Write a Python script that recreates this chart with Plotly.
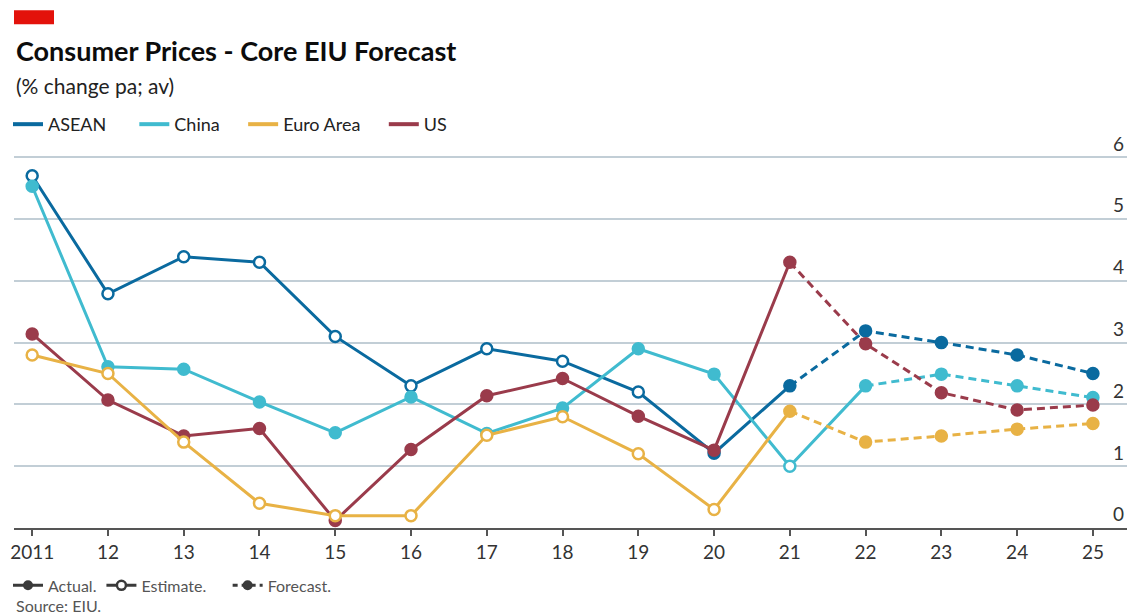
import plotly.graph_objects as go

years = list(range(2011, 2026))
tick_labels = ["2011"] + [str(y % 100) for y in range(2012, 2026)]

asean = [5.70, 3.79, 4.39, 4.30, 3.10, 2.30, 2.90, 2.70, 2.20, 1.21, 2.30, 3.19, 3.00, 2.80, 2.50]
china = [5.53, 2.61, 2.57, 2.04, 1.54, 2.12, 1.53, 1.94, 2.90, 2.49, 1.00, 2.30, 2.49, 2.30, 2.11]
euro = [2.80, 2.50, 1.39, 0.40, 0.20, 0.20, 1.50, 1.80, 1.20, 0.30, 1.89, 1.39, 1.49, 1.60, 1.69]
us = [3.14, 2.07, 1.49, 1.61, 0.12, 1.27, 2.14, 2.42, 1.81, 1.26, 4.30, 2.98, 2.19, 1.91, 1.99]

# A = actual, E = estimate, F = forecast
asean_status = ["E"] * 9 + ["A", "A"] + ["F"] * 4
china_status = ["A"] * 10 + ["E", "A"] + ["F"] * 3
euro_status = ["E"] * 10 + ["A"] + ["F"] * 4
us_status = ["A"] * 11 + ["F"] * 4

series = [
    ("ASEAN", asean, asean_status, "#0a6a9f"),
    ("China", china, china_status, "#40bbcf"),
    ("US", us, us_status, "#9a3b4b"),
    ("Euro Area", euro, euro_status, "#e8b245"),
]
legend_order = ["ASEAN", "China", "Euro Area", "US"]
legend_names = {"ASEAN": "ASEAN     ", "China": "China    ", "Euro Area": "Euro Area    ", "US": "US"}

fig = go.Figure()

for name, vals, status, color in series:
    first_f = status.index("F")
    solid_end = first_f - 1
    fig.add_trace(go.Scatter(
        x=years[:solid_end + 1], y=vals[:solid_end + 1], mode="lines",
        line=dict(color=color, width=3), showlegend=False, hoverinfo="skip",
        cliponaxis=False))
    fig.add_trace(go.Scatter(
        x=years[solid_end:], y=vals[solid_end:], mode="lines",
        line=dict(color=color, width=3, dash="8px,5px"), showlegend=False,
        hoverinfo="skip", cliponaxis=False))
    fills = ["white" if s == "E" else color for s in status]
    fig.add_trace(go.Scatter(
        x=years, y=vals, mode="markers",
        marker=dict(size=11, color=fills, line=dict(color=color, width=2.5)),
        showlegend=False, name=name, cliponaxis=False))

colors = {n: c for n, _, _, c in series}
for n in legend_order:
    fig.add_trace(go.Scatter(
        x=[None], y=[None], mode="lines", name=legend_names[n],
        line=dict(color=colors[n], width=4), legend="legend"))

key_col = "#3a3a3a"
fig.add_trace(go.Scatter(x=[None], y=[None], mode="lines+markers", name="Actual.",
                         line=dict(color=key_col, width=3), marker=dict(size=10, color=key_col),
                         legend="legend2"))
fig.add_trace(go.Scatter(x=[None], y=[None], mode="lines+markers", name="Estimate.    ",
                         line=dict(color=key_col, width=3),
                         marker=dict(size=9, color="white", line=dict(color=key_col, width=2.5)),
                         legend="legend2"))
fig.add_trace(go.Scatter(x=[None], y=[None], mode="lines+markers", name="Forecast.",
                         line=dict(color=key_col, width=3, dash="5px,4px"),
                         marker=dict(size=10, color=key_col), legend="legend2"))

OFF = 8  # page body margin
W, H = 1145 - OFF, 615 - OFF
Y0 = 527.7 - OFF
UNIT = 61.667
YTOP = 6.02
PLOT_H = YTOP * UNIT
PLOT_W = 1113.0
def py(p):
    return (Y0 - (p - OFF)) / PLOT_H

fig.update_layout(
    width=W, height=H,
    margin=dict(l=14 - OFF, r=W - (14 - OFF) - PLOT_W, t=Y0 - PLOT_H, b=H - Y0, autoexpand=False),
    paper_bgcolor="white", plot_bgcolor="white",
    font=dict(family="Lato, Open Sans, sans-serif", color="#333333"),
    showlegend=True,
    legend=dict(orientation="h", x=-6 / PLOT_W, xanchor="left", y=py(125), yanchor="middle",
                font=dict(size=18, color="#222222"), bgcolor="rgba(0,0,0,0)",
                itemclick=False, tracegroupgap=0),
    legend2=dict(orientation="h", x=-6 / PLOT_W, xanchor="left", y=py(585), yanchor="middle",
                 font=dict(size=16, color="#555555"), bgcolor="rgba(0,0,0,0)"),
    xaxis=dict(range=[2010.76, 2025.45], tickmode="array", tickvals=years, ticktext=tick_labels,
               showgrid=False, showline=True, linecolor="#555555", linewidth=1.5,
               ticks="outside", ticklen=6, tickcolor="#555555", tickwidth=1.5,
               tickfont=dict(size=19, color="#333333"), zeroline=False, fixedrange=True),
    yaxis=dict(range=[0, YTOP], side="right", tickvals=[0, 1, 2, 3, 4, 5, 6],
               ticklabelposition="inside top", ticklabeloverflow="allow",
               showgrid=True, gridcolor="#c2ced6", gridwidth=1.5,
               zeroline=False, showline=False, ticks="",
               tickfont=dict(size=19, color="#333333"), fixedrange=True),
    shapes=[dict(type="rect", xref="paper", yref="paper", x0=0, x1=40 / PLOT_W,
                 y0=py(25), y1=py(11), fillcolor="#e3120b", line=dict(width=0))],
    annotations=[
        dict(text="<b>Consumer Prices - Core EIU Forecast</b>", xref="paper", yref="paper",
             x=0, y=py(51), xanchor="left", yanchor="middle", showarrow=False,
             font=dict(size=27, color="#0c0c0c")),
        dict(text="(% change pa; av)", xref="paper", yref="paper",
             x=0, y=py(86), xanchor="left", yanchor="middle", showarrow=False,
             font=dict(size=21, color="#222222")),
        dict(text="Source: EIU.", xref="paper", yref="paper",
             x=0, y=py(605), xanchor="left", yanchor="middle", showarrow=False,
             font=dict(size=16, color="#555555")),
    ],
)

fig.write_html("out.html")
